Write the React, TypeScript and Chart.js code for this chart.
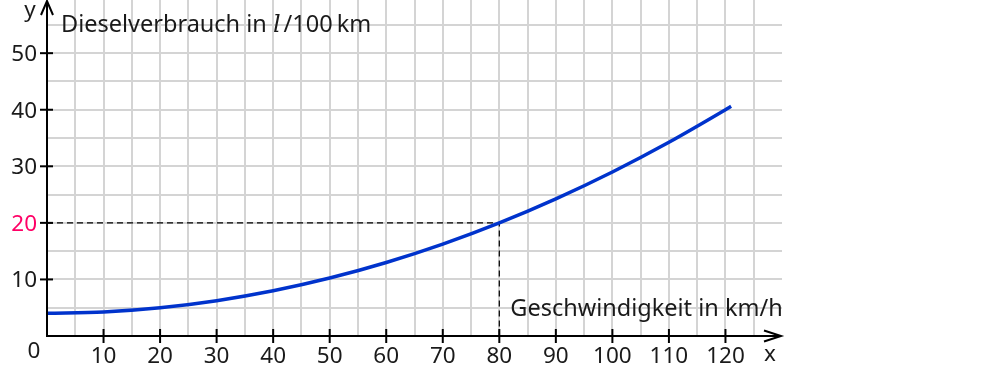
import React, { useEffect, useRef } from "react";
import { Chart, registerables } from "chart.js";

Chart.register(...registerables);

// ---- data ----
const speeds = [0, 10, 20, 30, 40, 50, 60, 70, 80, 90, 100, 110, 120, 121];
const consumption = [4, 4.25, 5, 6.25, 8, 10.25, 13, 16.25, 20, 24.25, 29, 34.25, 40, 40.6];
const xTickLabels = [10, 20, 30, 40, 50, 60, 70, 80, 90, 100, 110, 120];
const yTickLabels = [10, 20, 30, 40, 50];
const guideSpeed = 80;
const guideConsumption = 20;
const xMin = 0;
const xMax = 130;
const yMin = 0;
const yMax = 59.4;
const gridStep = 5;

const yTitle = ["Dieselverbrauch in ", "l", "/100", "km"];
const xTitle = "Geschwindigkeit in km/h";

const FONT = "'Noto Sans', sans-serif";
const TEXT = "#1a1a1a";
const HIGHLIGHT = "#ff0066";

const axesPlugin = {
  id: "mathAxes",
  afterDraw(chart: any) {
    const ctx = chart.ctx as CanvasRenderingContext2D;
    const xs = chart.scales.x;
    const ys = chart.scales.y;
    const x0 = xs.getPixelForValue(0);
    const y0 = ys.getPixelForValue(0);
    const xEnd = xs.getPixelForValue(xMax);
    const yEnd = ys.getPixelForValue(yMax);
    ctx.save();
    ctx.strokeStyle = "#000";
    ctx.lineWidth = 2;
    ctx.lineCap = "butt";
    // x axis
    ctx.beginPath();
    ctx.moveTo(x0 - 1, y0);
    ctx.lineTo(xEnd - 1, y0);
    ctx.stroke();
    ctx.beginPath();
    ctx.moveTo(xEnd - 18, y0 - 5.5);
    ctx.lineTo(xEnd - 1, y0);
    ctx.lineTo(xEnd - 18, y0 + 5.5);
    ctx.stroke();
    // y axis
    ctx.beginPath();
    ctx.moveTo(x0, y0 + 1);
    ctx.lineTo(x0, yEnd + 1);
    ctx.stroke();
    ctx.beginPath();
    ctx.moveTo(x0 - 6, yEnd + 15);
    ctx.lineTo(x0, yEnd + 1);
    ctx.lineTo(x0 + 6, yEnd + 15);
    ctx.stroke();
    // tick marks
    for (const v of xTickLabels) {
      const px = xs.getPixelForValue(v);
      ctx.beginPath();
      ctx.moveTo(px, y0 - 7);
      ctx.lineTo(px, y0 + 7);
      ctx.stroke();
    }
    for (const v of yTickLabels) {
      const py = ys.getPixelForValue(v);
      ctx.beginPath();
      ctx.moveTo(x0 - 7, py);
      ctx.lineTo(x0 + 6, py);
      ctx.stroke();
    }
    // tick labels
    ctx.font = `22.5px ${FONT}`;
    ctx.textBaseline = "alphabetic";
    ctx.textAlign = "center";
    ctx.fillStyle = TEXT;
    for (const v of xTickLabels) {
      ctx.fillText(String(v), xs.getPixelForValue(v), y0 + 27);
    }
    ctx.textAlign = "right";
    for (const v of yTickLabels) {
      ctx.fillStyle = v === guideConsumption ? HIGHLIGHT : TEXT;
      ctx.fillText(String(v), x0 - 10, ys.getPixelForValue(v) + 8);
    }
    ctx.fillStyle = TEXT;
    ctx.textAlign = "center";
    ctx.fillText("0", x0 - 13, y0 + 22);
    ctx.fillText("x", xEnd - 12, y0 + 25);
    ctx.fillText("y", x0 - 17, yEnd + 17);
    // titles
    ctx.textAlign = "left";
    ctx.font = `23.5px ${FONT}`;
    let tx = x0 + 14;
    const ty = yEnd + 32;
    ctx.fillText(yTitle[0], tx, ty);
    tx += ctx.measureText(yTitle[0]).width;
    ctx.font = `italic 24px 'DejaVu Serif', serif`;
    ctx.fillText(yTitle[1], tx, ty);
    tx += ctx.measureText(yTitle[1]).width + 3;
    ctx.font = `23.5px ${FONT}`;
    ctx.fillText(yTitle[2], tx, ty);
    tx += ctx.measureText(yTitle[2]).width + 4;
    ctx.fillText(yTitle[3], tx, ty);
    ctx.fillText(xTitle, xs.getPixelForValue(guideSpeed) + 11, y0 - 20);
    ctx.restore();
  },
};

export default function App() {
  const ref = useRef<HTMLCanvasElement | null>(null);
  useEffect(() => {
    if (!ref.current) return;
    const chart = new Chart(ref.current, {
      type: "line",
      data: {
        datasets: [
          {
            data: speeds.map((s, i) => ({ x: s, y: consumption[i] })),
            borderColor: "#0033cc",
            borderWidth: 3.5,
            pointRadius: 0,
            cubicInterpolationMode: "monotone",
            order: 0,
          },
          {
            data: [
              { x: xMin, y: guideConsumption },
              { x: guideSpeed, y: guideConsumption },
              { x: guideSpeed, y: yMin },
            ],
            borderColor: "#000",
            borderWidth: 1.2,
            borderDash: [6, 4],
            pointRadius: 0,
            tension: 0,
            order: 1,
          },
        ],
      },
      options: {
        animation: false,
        responsive: false,
        events: [],
        layout: { padding: { left: 47, right: 218, top: 0, bottom: 34 } },
        plugins: { legend: { display: false }, tooltip: { enabled: false } },
        scales: {
          x: {
            type: "linear",
            min: xMin,
            max: xMax,
            afterFit: (s: any) => {
              s.height = 0;
            },
            ticks: { display: false, stepSize: gridStep, includeBounds: false },
            border: { display: false },
            grid: {
              drawTicks: false,
              lineWidth: 2,
              color: (c: any) =>
                c.tick && (c.tick.value === xMin || c.tick.value === xMax) ? "rgba(0,0,0,0)" : "#d4d4d4",
            },
          },
          y: {
            type: "linear",
            min: yMin,
            max: yMax,
            afterFit: (s: any) => {
              s.width = 0;
            },
            ticks: { display: false, stepSize: gridStep, includeBounds: false },
            border: { display: false },
            grid: {
              drawTicks: false,
              lineWidth: 2,
              color: (c: any) =>
                c.tick && c.tick.value === yMin ? "rgba(0,0,0,0)" : "#d4d4d4",
            },
          },
        },
      } as any,
      plugins: [axesPlugin],
    });
    return () => chart.destroy();
  }, []);
  return (
    <div style={{ position: "fixed", left: 0, top: 0, width: 1000, height: 370, background: "#fff" }}>
      <canvas ref={ref} width={1000} height={370} style={{ display: "block" }} />
    </div>
  );
}
